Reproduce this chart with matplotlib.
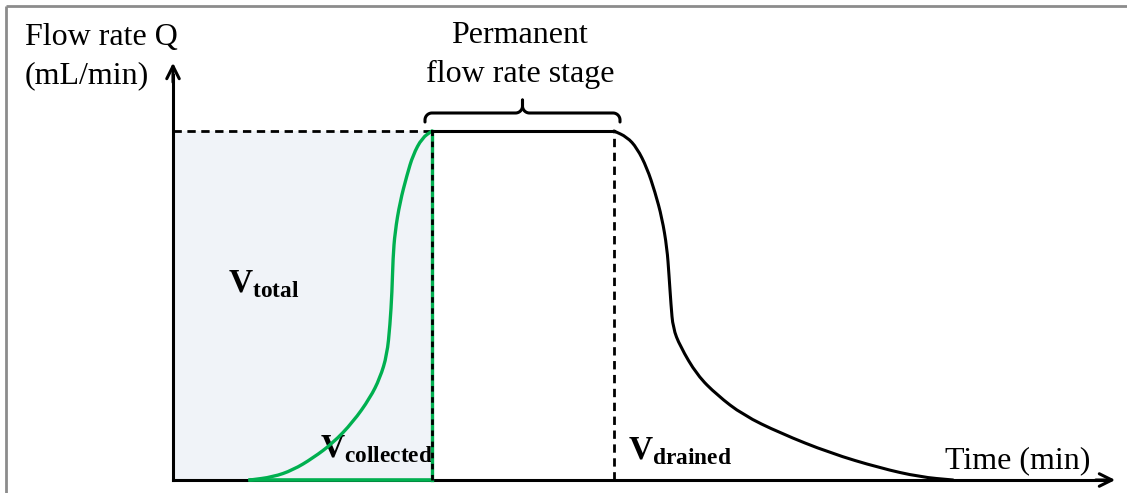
import numpy as np
import matplotlib.pyplot as plt
from matplotlib.path import Path
from matplotlib.patches import PathPatch

plt.rcParams['font.family'] = ['Liberation Serif', 'DejaVu Serif']
plt.rcParams['mathtext.fontset'] = 'custom'
plt.rcParams['mathtext.bf'] = 'Liberation Serif:bold'
plt.rcParams['mathtext.rm'] = 'Liberation Serif'

# DATA (time and flow rate in arbitrary schematic units)
q_perm = 349
t_fill_end = 259      # end of filling stage (V_total / V_collected)
t_drain_start = 441   # end of permanent stage

# rising (collected) curve
rise_t = [77, 100, 120, 140, 160, 180, 197, 207, 214, 217, 219, 220, 222, 227, 234, 240, 249, 259]
rise_q = [0, 3, 10, 22, 37, 58, 82, 102, 125, 155, 188, 222, 248, 278, 305, 325, 342, 349]

# draining curve
drain_t = [441, 454, 464, 474, 482, 489, 494, 496, 498, 500, 507, 524, 544, 570, 607, 657, 707, 747, 780]
drain_q = [349, 343, 332, 312, 288, 262, 232, 205, 175, 152, 134, 105, 85, 65, 47, 27, 12, 3, 0]


def smooth_curve(ax, xs, ys, **kw):
    # quadratic bezier pieces through the midpoints -> smooth drawn line
    pts = np.column_stack([xs, ys]).astype(float)
    mids = (pts[:-1] + pts[1:]) / 2
    verts = [pts[0], mids[0]]
    codes = [Path.MOVETO, Path.LINETO]
    for i in range(1, len(pts) - 1):
        verts += [pts[i], mids[i]]
        codes += [Path.CURVE3, Path.CURVE3]
    verts.append(pts[-1])
    codes.append(Path.LINETO)
    ax.add_patch(PathPatch(Path(verts, codes), fill=False, capstyle='round', **kw))


fig = plt.figure(figsize=(11.27, 4.93), dpi=100)
ax = fig.add_axes([0, 0, 1, 1])
ax.set_xlim(-173, 954)
ax.set_ylim(-13, 480)
ax.axis('off')

# gray frame (top and left)
ax.plot([-167, 960], [474.5, 474.5], color='#8c8c8c', lw=2, solid_capstyle='butt')
ax.plot([-167, -167], [-20, 474.5], color='#8c8c8c', lw=2, solid_capstyle='butt')

# shaded V_total area
ax.fill_between([0, t_fill_end], 0, q_perm, color='#f0f3f8', lw=0, zorder=1)
ax.plot([0, t_fill_end], [q_perm, q_perm], color='k', lw=2, ls=(0, (3, 2)), zorder=3)

# axes arrows
ax.plot([0, 0], [0, 405], color='k', lw=2.2, zorder=4)
ax.plot([0, 935], [0, 0], color='k', lw=2.2, zorder=4)
ax.annotate('', xy=(0, 420), xytext=(0, 395),
            arrowprops=dict(arrowstyle='->,head_length=0.9,head_width=0.45', lw=2.2, color='k'))
ax.annotate('', xy=(945, 0), xytext=(920, 0),
            arrowprops=dict(arrowstyle='->,head_length=0.9,head_width=0.45', lw=2.2, color='k'))

# green collected curve
smooth_curve(ax, rise_t, rise_q, edgecolor='#00b050', lw=2.4, zorder=5)
ax.plot([rise_t[0], t_fill_end], [0, 0], color='#00b050', lw=2.6, zorder=5)
ax.plot([t_fill_end, t_fill_end], [0, q_perm], color='#00b050', lw=2.4, zorder=5)
ax.plot([t_fill_end, t_fill_end], [0, q_perm], color='k', lw=2, ls=(0, (2, 2)), zorder=6)

# permanent stage and draining
ax.plot([t_fill_end, t_drain_start], [q_perm, q_perm], color='k', lw=2.2, zorder=5)
smooth_curve(ax, drain_t, drain_q, edgecolor='k', lw=2.2, zorder=5)
ax.plot([t_drain_start, t_drain_start], [0, q_perm], color='k', lw=2, ls=(0, (3, 2)), zorder=5)

# curly brace above permanent stage
b0, b1 = t_fill_end - 7, t_drain_start + 6
bm = (b0 + b1) / 2
qe, qb, qt = 358, 367, 380
r = 7
a1 = np.linspace(np.pi, np.pi / 2, 20)
a2 = np.linspace(-np.pi / 2, 0, 20)
bx = np.concatenate([[b0], b0 + r + r * np.cos(a1), bm - r + r * np.cos(a2), [bm]])
by = np.concatenate([[qe], qb - r + r * np.sin(a1), qb + r + r * np.sin(a2), [qt]])
ax.plot(bx, by, color='k', lw=2.2, solid_capstyle='round')
ax.plot(2 * bm - bx, by, color='k', lw=2.2, solid_capstyle='round')

# texts
ax.text(-148, 435, 'Flow rate Q', fontsize=23, ha='left', va='baseline')
ax.text(-148, 397, '(mL/min)', fontsize=23, ha='left', va='baseline')
ax.text(347, 437, 'Permanent', fontsize=23, ha='center', va='baseline')
ax.text(347, 398, 'flow rate stage', fontsize=23, ha='center', va='baseline')
ax.text(55, 188, r'$\mathbf{V}_{\mathbf{total}}$', fontsize=24, ha='left', va='baseline')
ax.text(147, 23, r'$\mathbf{V}_{\mathbf{collected}}$', fontsize=24, ha='left', va='baseline')
ax.text(455, 21, r'$\mathbf{V}_{\mathbf{drained}}$', fontsize=24, ha='left', va='baseline')
ax.text(772, 12, 'Time (min)', fontsize=23, ha='left', va='baseline')

fig.savefig('out.png', dpi=100)
